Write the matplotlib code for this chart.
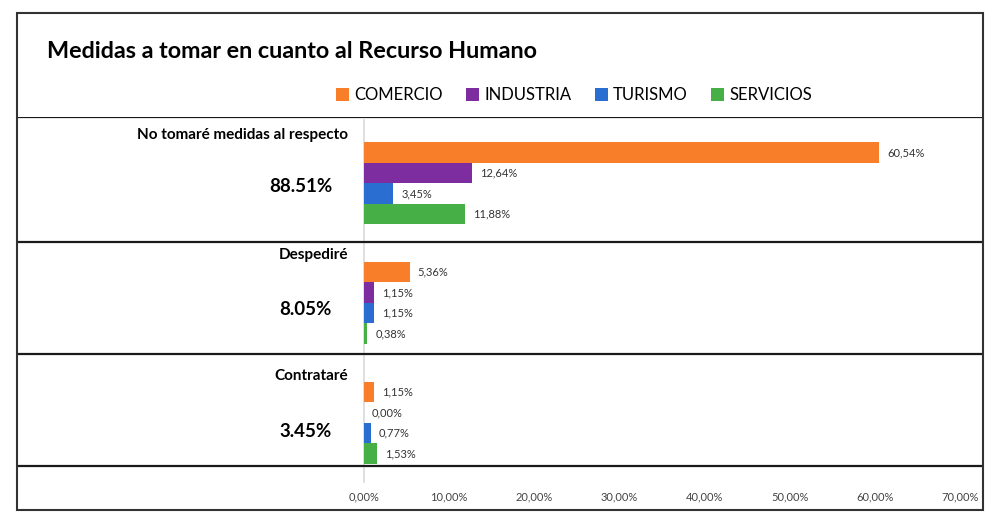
import matplotlib.pyplot as plt
from matplotlib.patches import Rectangle

# Data
categories = ['No tomaré medidas al respecto', 'Despediré', 'Contrataré']
totals = ['88.51%', '8.05%', '3.45%']
sectors = ['COMERCIO', 'INDUSTRIA', 'TURISMO', 'SERVICIOS']
values = {
    'COMERCIO': [60.54, 5.36, 1.15],
    'INDUSTRIA': [12.64, 1.15, 0.00],
    'TURISMO': [3.45, 1.15, 0.77],
    'SERVICIOS': [11.88, 0.38, 1.53],
}
ticks = [0, 10, 20, 30, 40, 50, 60, 70]
colors = ['#F97E2A', '#7D2DA0', '#2A6ED2', '#46AF46']

plt.rcParams['font.family'] = ['Lato', 'DejaVu Sans']

fig = plt.figure(figsize=(10, 5.25), dpi=100)
W, H = 1000, 525

# outer frame
fig.patches.append(Rectangle((17 / W, 1 - 510 / H), 966 / W, 497 / H,
                             transform=fig.transFigure, fill=False,
                             edgecolor='#333333', linewidth=1.5))

fig.text(47 / W, 1 - 52 / H, 'Medidas a tomar en cuanto al Recurso Humano',
         fontsize=16.8, fontweight='bold', va='center', ha='left')

# axes covering the table area, y in pixel-like units (inverted)
ax = fig.add_axes([17 / W, 1 - 510 / H, 966 / W, 393 / H])
px = 8.514  # pixels per percent
ax.set_xlim(-347 / px, 619 / px)
ax.set_ylim(510, 117)
for s in ax.spines.values():
    s.set_visible(False)
ax.set_yticks([])

group_centers = [183.5, 303, 423]
bar_h = 20.5
offsets = [-1.5 * bar_h, -0.5 * bar_h, 0.5 * bar_h, 1.5 * bar_h]

ax.plot([0, 0], [120, 482], color='#d9d9d9', linewidth=1.2, zorder=1)

handles = []
for k, sec in enumerate(sectors):
    ys = [c + offsets[k] for c in group_centers]
    b = ax.barh(ys, values[sec], height=bar_h, color=colors[k], zorder=2,
                label=sec)
    handles.append(b)
    for y, v in zip(ys, values[sec]):
        ax.text(v + 8 / px, y, f'{v:.2f}%'.replace('.', ','), fontsize=8,
                va='center', ha='left', color='#333333')

# separators
for y in [117, 242, 354, 466]:
    ax.axhline(y, color='#1a1a1a', linewidth=1.6, zorder=3)

label_y = [135, 255, 376]
total_y = [187, 310, 432]
for name, tot, ly, ty in zip(categories, totals, label_y, total_y):
    ax.text(-16 / px, ly, name, fontsize=11, fontweight='bold',
            ha='right', va='center')
    ax.text(-32 / px, ty, tot, fontsize=13.5, fontweight='bold',
            ha='right', va='center')

for t in ticks:
    ax.text(t, 497, f'{t:.2f}%'.replace('.', ','), fontsize=8,
            ha='center', va='center', color='#444444')
ax.set_xticks([])

fig.legend(handles=handles, loc='center', bbox_to_anchor=(574 / W, 1 - 95 / H),
           ncol=4, frameon=False, fontsize=12, handlelength=0.8,
           handleheight=0.8, handletextpad=0.3, columnspacing=1.4)

plt.savefig('out.png', dpi=100)
